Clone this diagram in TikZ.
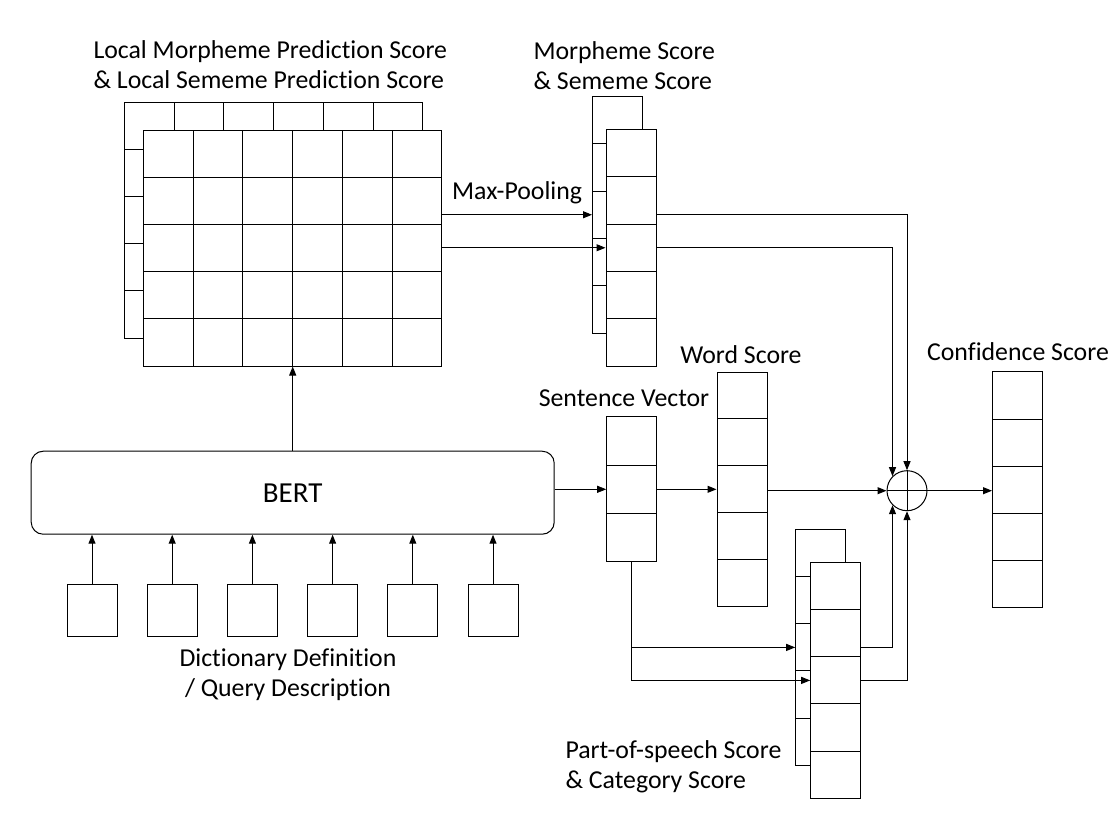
\documentclass[tikz,border=0pt]{standalone}
\usepackage{fontspec}
\setmainfont{Carlito}[Ligatures={NoCommon}]
\usetikzlibrary{arrows.meta,positioning}

\begin{document}
\begin{tikzpicture}[x=1pt, y=-1pt, line width=1pt,
    cell/.style={rectangle, draw, fill=white, minimum width=50pt, minimum height=47pt, inner sep=0pt},
    lbl/.style={font=\fontsize{25.8}{30}\selectfont, align=left, inner sep=0pt},
    arrow/.style={-{Triangle[length=9pt,width=7pt]}},
]
\useasboundingbox (0,0) rectangle (1118,830);

\foreach \r in {1,...,5}
  \foreach \c in {1,...,6}
    \node[cell, minimum width=49.7pt, minimum height=47.2pt] (bg-\r-\c) at (99.65+49.7*\c, 78.4+47.2*\r) {};
\foreach \r in {1,...,5}
  \foreach \c in {1,...,6}
    \node[cell, minimum width=49.7pt, minimum height=47.2pt] (g-\r-\c) at (118.65+49.7*\c, 106.4+47.2*\r) {};

\foreach \i in {0,...,4} {
  \node[cell, minimum height=47.3pt] (bms\i) at (617.5, 120.15+47.3*\i) {};
}
\foreach \i in {0,...,4} {
  \node[cell, minimum height=47.3pt] (ms\i) at (631, 153.15+47.3*\i) {};
}
\foreach \i in {0,...,2} {
  \node[cell, minimum height=48.3pt] (sv\i) at (631.7, 441+48.3*\i) {};
}
\foreach \i in {0,...,4} {
  \node[cell, minimum height=46.8pt] (ws\i) at (742, 395.4+46.8*\i) {};
  \node[cell, minimum height=47.1pt] (cs\i) at (1017.5, 395.5+47.1*\i) {};
}
\foreach \i in {0,...,4} {
  \node[cell, minimum height=47.1pt] (bps\i) at (820.7, 553.2+47.1*\i) {};
}
\foreach \i in {0,...,4} {
  \node[cell, minimum height=47.1pt] (ps\i) at (835.7, 586.2+47.1*\i) {};
}

\node[draw, rounded corners=12pt, minimum width=523pt, minimum height=83pt, inner sep=0pt,
      font=\fontsize{29}{34}\selectfont] (bert) at (292.7, 492.7) {BERT};
\foreach \i in {1,...,6} {
  \node[cell, minimum height=52pt] (in\i) at (92+80.2*\i-80.2, 610.5) {};
  \draw[arrow] (in\i.north) -- (in\i.north |- bert.south);
}

\node[draw, circle, minimum size=40pt, inner sep=0pt] (plus) at (907, 490.7) {};
\draw (plus.north) -- (plus.south) (plus.west) -- (plus.east);

\draw[arrow] (bert.north) -- (bert.north |- g-5-1.south);
\draw[arrow] (g-2-6.east |- bms2.west) -- (bms2.west)
  node[lbl, midway, above=10pt] (mp) {Max-Pooling};
\draw[arrow] (g-3-6.east |- ms2.west) -- (ms2.west);
\draw[arrow] (ms2.east |- bms2.east) -| (plus.north);
\draw[arrow] (ms2.east) -| (plus.north west);
\draw[arrow] (ps2.east |- bps2.east) -| (plus.south west);
\draw[arrow] (ps2.east) -| (plus.south);
\draw[arrow, line width=0.7pt] (bert.east |- sv1.west) -- (sv1.west);
\draw[arrow] (sv1.east) -- (sv1.east -| ws2.west);
\draw[arrow] (ws2.east |- plus.west) -- (plus.west);
\draw[arrow] (plus.east) -- (plus.east -| cs2.west);
\draw[arrow] (sv2.south) |- (ps2.west);
\draw[arrow] (sv2.south |- bps2.west) -- (bps2.west);

\node[lbl, anchor=west] (lmps) at (93, 65) {Local Morpheme Prediction Score\\\& Local Sememe Prediction Score};
\node[lbl, anchor=west] (mss) at (533, 66) {Morpheme Score\\\& Sememe Score};
\node[lbl] (wsl) at (741, 355) {Word Score};
\node[lbl] (svl) at (624, 398) {Sentence Vector};
\node[lbl] (csl) at (1018, 352) {Confidence Score};
\node[lbl, align=center] (ddl) at (288, 675) {Dictionary Definition\\/ Query Description};
\node[lbl, anchor=west] (psl) at (565, 767) {Part-of-speech Score\\\& Category Score};
\end{tikzpicture}
\end{document}
